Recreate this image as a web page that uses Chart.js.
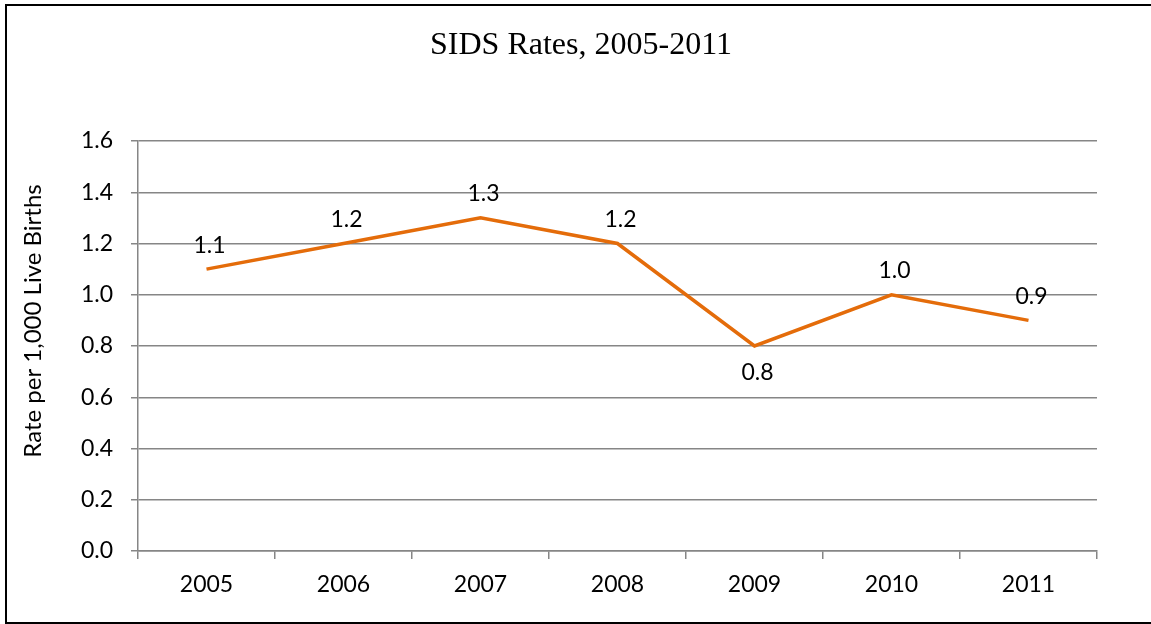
<!DOCTYPE html>
<html>
<head>
<meta charset="utf-8">
<script src="https://cdn.jsdelivr.net/npm/chart.js@4/dist/chart.umd.min.js"></script>
<style>
  body { margin: 0; background: #fff; }
  #wrap { position: relative; width: 1151px; height: 624px; overflow: hidden; }
  #frame {
    position: absolute; left: 5px; top: 4px; width: 1160px; height: 616px;
    border: 2px solid #000; border-right: none; pointer-events: none;
  }
  canvas { position: absolute; left: 0; top: 0; }
</style>
</head>
<body>
<div id="wrap">
  <canvas id="sidsChart" width="1151" height="624"></canvas>
  <div id="frame"></div>
</div>
<script>
/* ---------------------------- Data --------------------------------------------- */

const years = ['2005', '2006', '2007', '2008', '2009', '2010', '2011']
const sidsRates = [1.1, 1.2, 1.3, 1.2, 0.8, 1.0, 0.9]
const yTicks = [0.0, 0.2, 0.4, 0.6, 0.8, 1.0, 1.2, 1.4, 1.6]

const chartTitle = 'SIDS Rates, 2005-2011'
const yTitle = 'Rate per 1,000 Live Births'

const gridGray = '#868686'
const lineOrange = '#E46C0A'
const labelFont = 'Lato, "Open Sans", sans-serif'

/* ---------------------------- Plugins --------------------------------------------- */

// title + rotated axis title drawn at fixed spots, like the Excel original
const titlesPlugin = {
    id: 'titles',
    afterDraw(chart) {
        const ctx = chart.ctx
        ctx.save()
        ctx.fillStyle = '#000'
        ctx.textAlign = 'center'
        ctx.textBaseline = 'middle'
        ctx.font = '32px "Liberation Serif", "Times New Roman", serif'
        ctx.fillText(chartTitle, 581, 46)
        ctx.translate(33, 321)
        ctx.rotate(-Math.PI / 2)
        ctx.font = '24px ' + labelFont
        ctx.fillText(yTitle, 0, 0)
        ctx.restore()
    }
}

// value labels over each point, under it when the point is a dip
const valueLabels = {
    id: 'valueLabels',
    afterDatasetsDraw(chart) {
        const ctx = chart.ctx
        const meta = chart.getDatasetMeta(0)
        const vals = chart.data.datasets[0].data
        ctx.save()
        ctx.fillStyle = '#000'
        ctx.font = '23px ' + labelFont
        ctx.textAlign = 'center'
        ctx.textBaseline = 'middle'
        meta.data.forEach((pt, i) => {
            const prev = i > 0 ? vals[i - 1] : -Infinity
            const next = i < vals.length - 1 ? vals[i + 1] : -Infinity
            const below = vals[i] < prev && vals[i] < next
            ctx.fillText(vals[i].toFixed(1), pt.x + 3, pt.y + (below ? 27 : -24))
        })
        ctx.restore()
    }
}

/* ---------------------------- Chart --------------------------------------------- */

const config = {
    type: 'line',
    data: {
        labels: years,
        datasets: [{
            data: sidsRates,
            borderColor: lineOrange,
            borderWidth: 3.5,
            pointRadius: 0,
            fill: false,
            tension: 0
        }]
    },
    options: {
        responsive: false,
        animation: false,
        layout: {
            padding: { left: 0, top: 141, right: 54, bottom: 0 }
        },
        plugins: {
            legend: { display: false },
            title: { display: false },
            tooltip: { enabled: false }
        },
        scales: {
            x: {
                offset: true,
                grid: {
                    offset: true,
                    drawOnChartArea: false,
                    drawTicks: true,
                    tickLength: 8,
                    color: gridGray,
                    lineWidth: 1.5
                },
                border: { color: gridGray, width: 1.5 },
                ticks: {
                    color: '#000',
                    padding: 12,
                    maxRotation: 0,
                    font: { family: labelFont, size: 23 }
                },
                afterFit: (scale) => { scale.height = 73 }
            },
            y: {
                min: 0,
                max: 1.6,
                afterBuildTicks: (scale) => {
                    scale.ticks = yTicks.map(v => ({ value: v }))
                },
                grid: {
                    color: gridGray,
                    lineWidth: 1.5,
                    tickLength: 7,
                    drawTicks: true
                },
                border: { color: gridGray, width: 1.5 },
                ticks: {
                    color: '#000',
                    padding: 18,
                    font: { family: labelFont, size: 23 },
                    callback: (v) => Number(v).toFixed(1)
                },
                afterFit: (scale) => { scale.width = 138 }
            }
        }
    },
    plugins: [titlesPlugin, valueLabels]
}

const ctx = document.getElementById('sidsChart')
const sidsChart = new Chart(ctx, config)
</script>
</body>
</html>
